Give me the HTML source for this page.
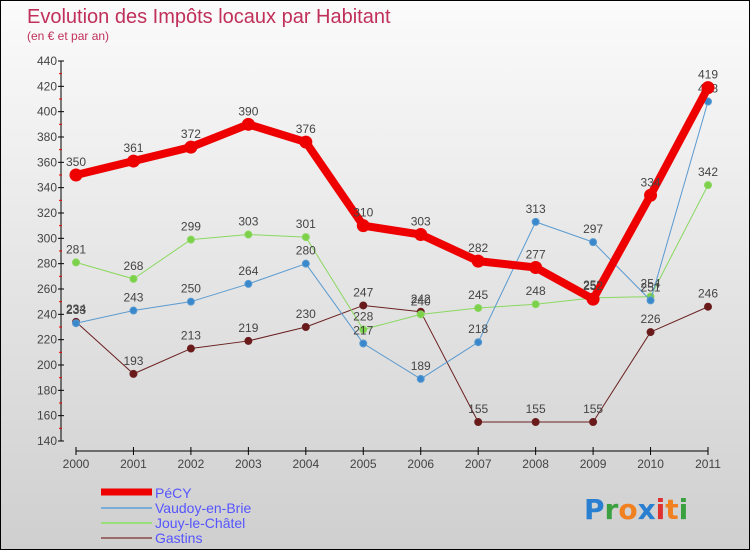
<!DOCTYPE html>
<html><head><meta charset="utf-8"><style>
body{margin:0}
#c{width:748px;height:548px;border:1px solid #000;background:linear-gradient(#fbfbfb,#cfcfcf);position:relative;font-family:"Liberation Sans",sans-serif}
</style></head><body>
<div id="c">
<svg id="s" width="748" height="548">
<text x="26" y="22" font-size="20" fill="#c0305a">Evolution des Impôts locaux par Habitant</text>
<text x="26" y="39" font-size="12" fill="#c0305a">(en € et par an)</text>
<g id="ax"></g><g id="series"></g>
<g font-size="14" fill="#5555ff">
<line x1="100" y1="491" x2="151" y2="491" stroke="#e00" stroke-width="7"/>
<text x="154" y="497">PéCY</text>
<line x1="100" y1="507" x2="151" y2="507" stroke="#7aaed8" stroke-width="2"/>
<text x="154" y="512">Vaudoy-en-Brie</text>
<line x1="100" y1="522" x2="151" y2="522" stroke="#9adf7a" stroke-width="2"/>
<text x="154" y="527">Jouy-le-Châtel</text>
<line x1="100" y1="537" x2="151" y2="537" stroke="#9a6a6a" stroke-width="2"/>
<text x="154" y="542">Gastins</text>
</g>
<text x="583" y="518" font-size="28" font-family="DejaVu Sans" font-weight="bold"><tspan fill="#2a7fd0">P</tspan><tspan fill="#3aa040">r</tspan><tspan fill="#f08020">o</tspan><tspan fill="#2a7fd0">x</tspan><tspan fill="#e03030">i</tspan><tspan fill="#f08020">t</tspan><tspan fill="#3aa040">i</tspan></text>
</svg></div>
<script>
const years=["2000","2001","2002","2003","2004","2005","2006","2007","2008","2009","2010","2011"];
const pecy=[350,361,372,390,376,310,303,282,277,252,334,419];
const vaudoy=[233,243,250,264,280,217,189,218,313,297,251,408];
const jouy=[281,268,299,303,301,228,240,245,248,253,254,342];
const gastins=[234,193,213,219,230,247,242,155,155,155,226,246];
const yTicks=[140,160,180,200,220,240,260,280,300,320,340,360,380,400,420,440];
const NS="http://www.w3.org/2000/svg";
const X=i=>75+i*(707-75)/11, Y=v=>60+(440-v)*380/300;
function mk(t,a,p){const e=document.createElementNS(NS,t);for(const k in a)e.setAttribute(k,a[k]);p.appendChild(e);return e;}
const ax=document.getElementById('ax');
let l=mk('line',{x1:60,y1:60,x2:60,y2:440,stroke:'#000'},ax);


l=mk('line',{x1:75,y1:450,x2:707,y2:450,stroke:'#000'},ax);


yTicks.forEach((v,i)=>{
 mk('line',{x1:57,y1:Y(v),x2:63,y2:Y(v),stroke:'#000'},ax);
 if(i<yTicks.length-1)mk('line',{x1:58,y1:Y(v+10),x2:61,y2:Y(v+10),stroke:'#e00'},ax);
 const t=mk('text',{x:56,y:Y(v)+4,'font-size':12,fill:'#444','text-anchor':'end'},ax);t.textContent=v;
 
 
});
years.forEach((y,i)=>{
 mk('line',{x1:X(i),y1:446,x2:X(i),y2:454,stroke:'#000'},ax);
 const t=mk('text',{x:X(i),y:467,'font-size':12,fill:'#444','text-anchor':'middle'},ax);t.textContent=y;
 
 
});
const sg=document.getElementById('series');
function draw(data,name,color,w,r,dot){
 const g=mk('g',{},sg);
 
 
 const pl=mk('polyline',{points:data.map((v,i)=>X(i)+','+Y(v)).join(' '),fill:'none',stroke:color,'stroke-width':w,'stroke-linejoin':'round'},g);
 
 
 data.forEach((v,i)=>{
  const c=mk('circle',{cx:X(i),cy:Y(v),r:r,fill:dot,stroke:color,'stroke-width':1},g);
  
  
  const t=mk('text',{x:X(i),y:Y(v)-9,'font-size':12,fill:'#444','text-anchor':'middle'},g);t.textContent=v;
  
  
 });
}
draw(gastins,'gastins','#6a2020',1,3.5,'#6a1a1a');
draw(jouy,'jouy','#8ad860',1,3.5,'#7cd04a');
draw(vaudoy,'vaudoy','#5a9ad0',1,3.5,'#3a88cc');
draw(pecy,'pecy','#ee0000',8,6,'#ee0000');
</script></body></html>
